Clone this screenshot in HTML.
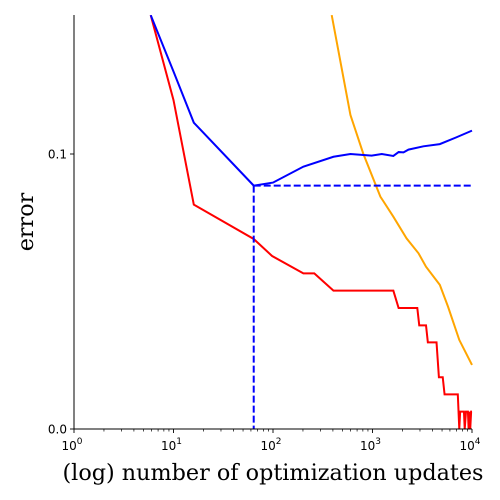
<!DOCTYPE html>
<html><head><meta charset="utf-8"><style>
html,body{margin:0;padding:0;background:#fff;width:500px;height:500px;overflow:hidden}
</style></head><body>
<svg id="chart" width="500" height="500" xmlns="http://www.w3.org/2000/svg"></svg>
<script>
const blueN=[5.9,10,16,64,100,202,405,600,980,1240,1620,1830,2050,2300,3250,4750,6900,10000];
const blueV=[0.1505,0.13,0.1114,0.0885,0.0896,0.0954,0.099,0.1,0.0994,0.1,0.0993,0.1007,0.1006,0.1016,0.1028,0.1036,0.106,0.1085];
const redN=[5.9,10,16,64,98,202,260,405,1620,1830,2820,2950,3450,3600,4400,4650,5080,5300,7200,7450,7600,8300,8450,8700,9100,9250,9400,9600,9800,10000];
const redV=[0.1505,0.1196,0.0816,0.0691,0.0629,0.0566,0.0566,0.0503,0.0503,0.044,0.044,0.0377,0.0377,0.0315,0.0315,0.0188,0.0188,0.0126,0.0126,0,0.0063,0.0063,0,0.0063,0.0063,0,0.0063,0,0.0063,0.0063];
const orangeN=[389,600,808,1200,1620,2200,2900,3450,4750,5740,7450,10000];
const orangeV=[0.1505,0.1142,0.1001,0.0845,0.0772,0.0693,0.0639,0.059,0.0524,0.0445,0.0324,0.0233];
const minN=64, minV=0.0885;
const xTickLabels=["0","1","2","3","4"];
const yTicks=[0,0.1];
const yTickLabels=["0.0","0.1"];

const svg=document.getElementById('chart');
const NS='http://www.w3.org/2000/svg';
const X0=74,X1=472,Y0=429,Y1=15;
function xs(n){return X0+(X1-X0)*Math.log10(n)/4;}
function ys(v){return Y0-2750*v;}
function mk(tag,attrs,parent){const e=document.createElementNS(NS,tag);for(const k in attrs)e.setAttribute(k,attrs[k]);(parent||svg).appendChild(e);return e;}

const clip=mk('clipPath',{id:'c'});mk('rect',{x:X0,y:Y1,width:X1-X0+1,height:Y0-Y1},clip);
function line(ns,vs,color,name){
  const p=mk('polyline',{points:ns.map((n,i)=>xs(n)+','+ys(vs[i])).join(' '),fill:'none',stroke:color,'stroke-width':2,'clip-path':'url(#c)'});
  
  
}
line(orangeN,orangeV,'orange','orange-series-line');
line(redN,redV,'red','red-series-line');
line(blueN,blueV,'blue','blue-series-line');
const h=mk('line',{x1:xs(minN),y1:ys(minV),x2:X1,y2:ys(minV),stroke:'blue','stroke-width':2,'stroke-dasharray':'7,3'});


const v=mk('line',{x1:xs(minN),y1:ys(minV),x2:xs(minN),y2:Y0,stroke:'blue','stroke-width':2,'stroke-dasharray':'7,3'});



const ax=mk('path',{d:`M${X0},${Y1}V${Y0}H${X1}`,fill:'none',stroke:'#000','stroke-width':1});


for(let d=0;d<4;d++)for(let m=2;m<10;m++){const x=xs(m*Math.pow(10,d));mk('line',{x1:x,x2:x,y1:Y0,y2:Y0+2.5,stroke:'#000','stroke-width':0.7});}
xTickLabels.forEach((t,i)=>{
  const x=xs(Math.pow(10,+t));
  mk('line',{x1:x,x2:x,y1:Y0,y2:Y0+4,stroke:'#000','stroke-width':0.9});
  const tx=mk('text',{x:x-2,y:Y0+21,'text-anchor':'middle','font-family':'DejaVu Sans, sans-serif','font-size':12});
  
  
  tx.textContent='10';
  const s=mk('tspan',{dy:-6,'font-size':9},tx);s.textContent=t;
});
yTicks.forEach((t,i)=>{
  const y=ys(t);
  mk('line',{x1:X0-4,x2:X0,y1:y,y2:y,stroke:'#000','stroke-width':0.9});
  const tx=mk('text',{x:X0-7,y:y+4.5,'text-anchor':'end','font-family':'DejaVu Sans, sans-serif','font-size':12});
  
  
  tx.textContent=yTickLabels[i];
});
const xl=mk('text',{x:273,y:480,'text-anchor':'middle','font-family':'DejaVu Serif, serif','font-size':22.3});


xl.textContent='(log) number of optimization updates';
const yl=mk('text',{x:0,y:0,transform:'translate(33,222) rotate(-90)','text-anchor':'middle','font-family':'DejaVu Serif, serif','font-size':22.3});


yl.textContent='error';
</script>
</body></html>
